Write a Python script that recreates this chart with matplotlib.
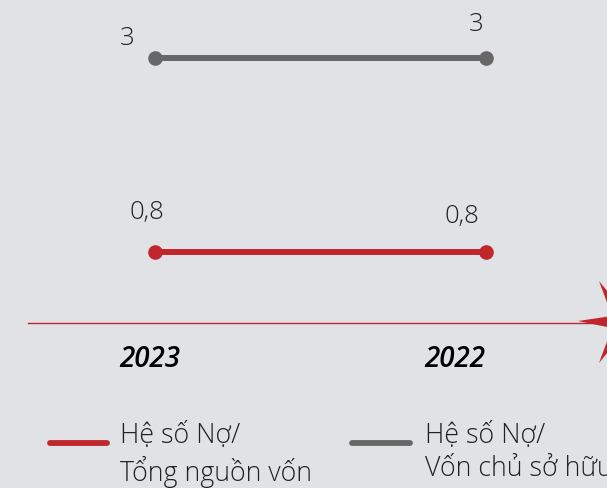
import matplotlib.pyplot as plt
from matplotlib.patches import Polygon

years = ["2023", "2022"]
debt_to_assets = [0.8, 0.8]
debt_to_equity = [3, 3]
label_assets = "Hệ số Nợ/\nTổng nguồn vốn"
label_equity = "Hệ số Nợ/\nVốn chủ sở hữu"

RED = "#c1262d"
GRAY = "#676767"
BG = "#e0e2e6"

W, H = 607, 489
fig = plt.figure(figsize=(W / 100, H / 100), dpi=100, facecolor=BG)
ax = fig.add_axes([0, 0, 1, 1])
ax.set_facecolor(BG)
ax.axis("off")

# pixel mapping: x=0 -> 155px, x=1 -> 486px ; y=0 -> 323.5px from top, 88.2 px per unit
px_x = 331.0
px_y = 88.2
ax.set_xlim(-155 / px_x, (W - 155) / px_x)
ax.set_ylim(-(H - 323.5) / px_y, 323.5 / px_y)

xs = list(range(len(years)))
ax.plot(xs, debt_to_equity, color=GRAY, lw=4.3, marker="o", ms=9.5, solid_capstyle="butt")
ax.plot(xs, debt_to_assets, color=RED, lw=4.3, marker="o", ms=9.5, solid_capstyle="butt")

font = "Open Sans"
k = 0.72  # px -> pt at 100 dpi


def note(txt, x, y, dx, dy, **kw):
    ax.annotate(txt, (x, y), xytext=(dx * k, dy * k), textcoords="offset points",
                ha="center", va="center", family=font, **kw)


offs_eq = [(-28, 20), (-10, 34)]
offs_as = [(-8, 40), (-24, 36)]
for i in xs:
    note(f"{debt_to_equity[i]:g}", i, debt_to_equity[i], *offs_eq[i],
         fontsize=18.5, weight="light", color="#222222")
    note(f"{debt_to_assets[i]:g}".replace(".", ","), i, debt_to_assets[i], *offs_as[i],
         fontsize=18.5, weight="light", color="#222222")

# axis line with arrow
ax.plot([-127 / px_x, (W + 10 - 155) / px_x], [0, 0], color=RED, lw=1)
star = [(578, 322), (612, 317), (599, 282), (626, 315), (660, 323),
        (626, 331), (599, 364), (612, 329)]
ax.add_patch(Polygon([((px - 155) / px_x, (323.5 - py) / px_y) for px, py in star],
                     closed=True, color=RED, lw=0))

year_offs = [(-5, -36), (-31, -36)]
for i, yr in enumerate(years):
    note(yr, i, 0, *year_offs[i], fontsize=20, weight="semibold", style="italic",
         color="black")

# legend keys
for (x0, x1, tx), col, lab in [((50, 107, 120), RED, label_assets),
                               ((352, 410, 425), GRAY, label_equity)]:
    fig.add_artist(plt.Line2D([x0 / W, x1 / W], [1 - 444 / H] * 2, color=col, lw=4.2,
                              solid_capstyle="round", transform=fig.transFigure))
    fig.text(tx / W, 1 - 422 / H, lab, ha="left", va="top", family=font, weight="light",
             fontsize=19.3, color="#222222", linespacing=1.25)

fig.savefig("out.png", dpi=100, facecolor=BG)
